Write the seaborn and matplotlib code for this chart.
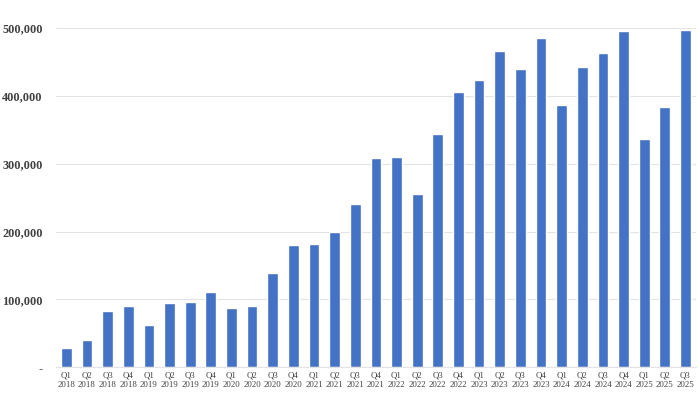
import matplotlib
matplotlib.use("Agg")
import matplotlib.pyplot as plt
import seaborn as sns
import pandas as pd
from matplotlib.ticker import FuncFormatter

quarters = ["Q1", "Q2", "Q3", "Q4"] * 7 + ["Q1", "Q2", "Q3"]
years = [2018] * 4 + [2019] * 4 + [2020] * 4 + [2021] * 4 + [2022] * 4 + [2023] * 4 + [2024] * 4 + [2025] * 3
values = [29000, 40000, 83000, 90000,
          62000, 95000, 96000, 111000,
          88000, 90000, 139000, 180000,
          182000, 200000, 241000, 308000,
          310000, 255000, 344000, 405000,
          423000, 466000, 439000, 485000,
          386000, 443000, 463000, 495000,
          336000, 384000, 497000]

labels = [f"{q}\n{y}" for q, y in zip(quarters, years)]
df = pd.DataFrame({"period": labels, "value": values})

sns.set_style("white")
plt.rcParams["font.family"] = ["Liberation Serif", "DejaVu Serif"]

fig = plt.figure(figsize=(7, 3.94), dpi=100)
ax = fig.add_axes([0.08, 0.068, 0.914, 0.861])

sns.barplot(data=df, x="period", y="value", color="#4472C4", width=0.52,
            saturation=1, ax=ax)

ax.set_ylim(0, 500000)
ax.set_xlim(-0.5, len(values) - 0.5)
ax.set_yticks(range(0, 500001, 100000))
ax.yaxis.set_major_formatter(FuncFormatter(lambda v, p: "-" if v == 0 else f"{int(v):,}"))
ax.grid(axis="y", color="#E3E3E3", linewidth=0.8)
ax.set_axisbelow(True)
for s in ["top", "right", "left"]:
    ax.spines[s].set_visible(False)
ax.spines["bottom"].set_color("#E3E3E3")
ax.spines["bottom"].set_linewidth(0.8)

ax.tick_params(axis="y", labelsize=8.8, labelcolor="#404040", length=0, pad=9.5)
ax.tick_params(axis="x", labelsize=6.3, labelcolor="#404040", length=0, pad=3)
for t in ax.get_yticklabels():
    t.set_fontweight("bold")
ax.set_xlabel("")
ax.set_ylabel("")

fig.savefig("out.png", dpi=100)
